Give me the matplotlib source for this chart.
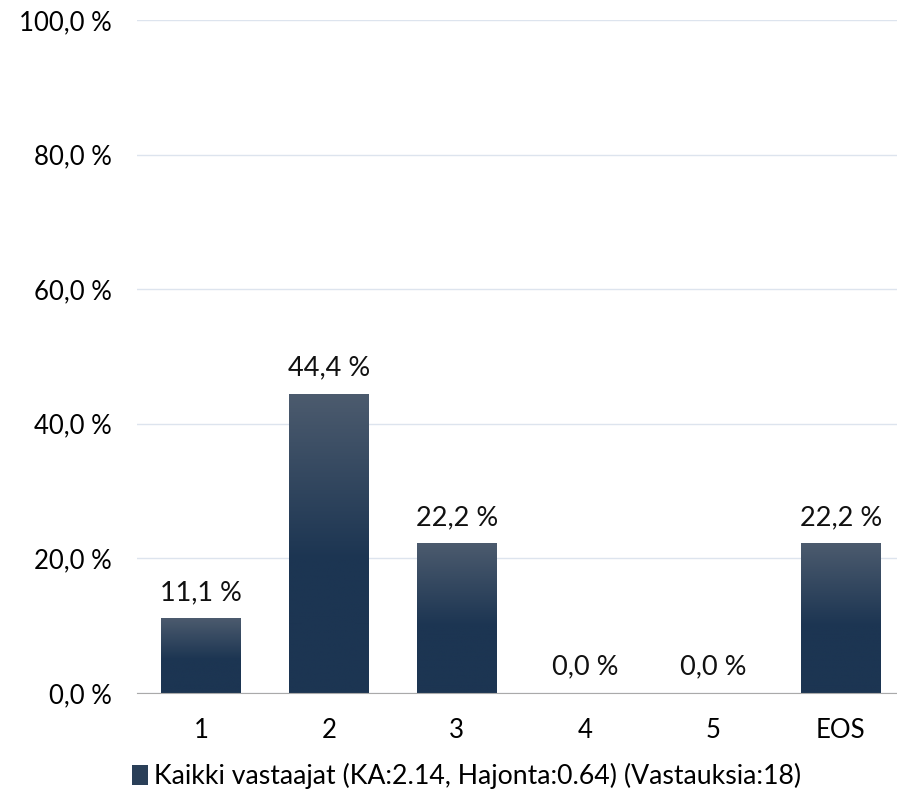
import numpy as np
import matplotlib
matplotlib.use('Agg')
import matplotlib.pyplot as plt
from matplotlib.colors import LinearSegmentedColormap
from matplotlib.patches import Patch

categories = ['1', '2', '3', '4', '5', 'EOS']
values = [11.1, 44.4, 22.2, 0.0, 0.0, 22.2]
yticks = [0, 20, 40, 60, 80, 100]
legend_label = 'Kaikki vastaajat (KA:2.14, Hajonta:0.64) (Vastauksia:18)'

plt.rcParams['font.family'] = ['Lato', 'DejaVu Sans']

fig = plt.figure(figsize=(8.97, 7.91), dpi=100)
ax = fig.add_axes([0.1527, 0.1239, 0.8473, 0.8508])

x = np.arange(len(categories))
w = 0.625
bars = ax.bar(x, values, width=w, color='none', edgecolor='none')

# vertical gradient: lighter top, dark navy lower half
cmap = LinearSegmentedColormap.from_list('g', [(0, '#1c3552'), (0.45, '#1c3552'), (1, '#4c5b6e')])
grad = np.linspace(0, 1, 256).reshape(-1, 1)
for b, v in zip(bars, values):
    if v <= 0:
        continue
    x0 = b.get_x()
    ax.imshow(grad, cmap=cmap, aspect='auto', origin='lower',
              extent=[x0, x0 + w, 0, v], zorder=2)

for xi, v in zip(x, values):
    ax.text(xi, v + 2.0, f'{v:.1f} %'.replace('.', ','), ha='center', va='bottom',
            fontsize=19.5, color='#111111')

ax.set_xlim(-0.5, 5.44)
ax.set_ylim(0, 100)
ax.set_yticks(yticks)
ax.set_yticklabels([f'{t:.1f} %'.replace('.', ',') for t in yticks], fontsize=18.5)
ax.set_xticks(x)
ax.set_xticklabels(categories, fontsize=18.5)
ax.tick_params(length=0)
ax.tick_params(axis='x', pad=18)
ax.tick_params(axis='y', pad=18)
ax.grid(axis='y', color='#dde4ee', linewidth=1)
ax.set_axisbelow(True)
for s in ['top', 'right', 'left']:
    ax.spines[s].set_visible(False)
ax.spines['bottom'].set_color('#aaaaaa')
ax.spines['bottom'].set_zorder(3)

handle = Patch(facecolor='#2a3f58', edgecolor='none')
fig.legend([handle], [legend_label], loc='center', bbox_to_anchor=(0.52, 0.019),
           frameon=False, fontsize=19.2, handlelength=0.6, handleheight=0.8,
           handletextpad=0.25)

fig.savefig('out.png', dpi=100)
